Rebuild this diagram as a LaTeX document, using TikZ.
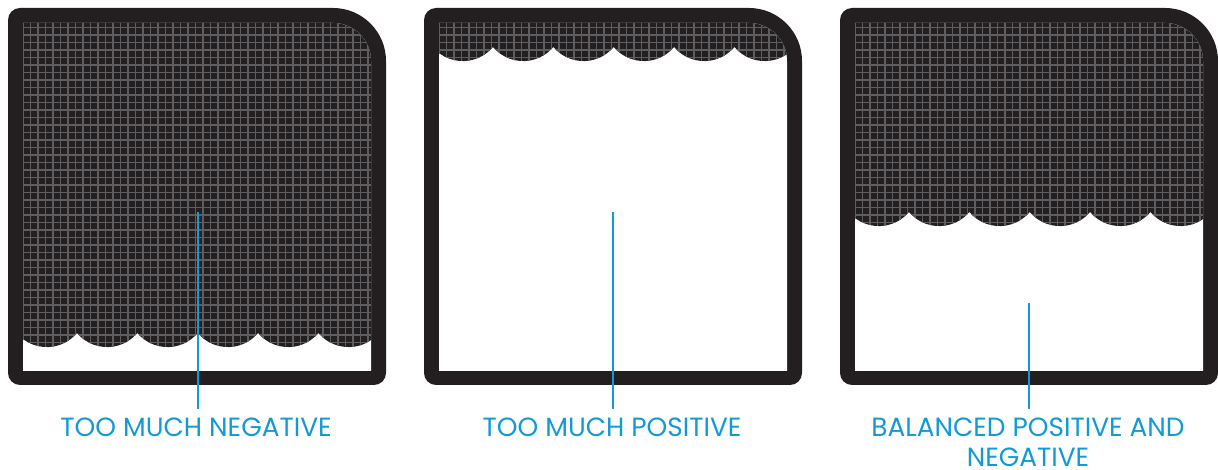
\documentclass[tikz,border=0pt]{standalone}
\usepackage{fontspec}
\setmainfont{Poppins}
\usetikzlibrary{positioning}
\definecolor{ink}{HTML}{231F20}
\definecolor{mesh}{HTML}{5E5E60}
\definecolor{sky}{HTML}{119AD6}
\tikzset{
  boxrim/.style={insert path={(12,85) -- (366,85) arc[start angle=-90,end angle=0,radius=12]
    -- (378,409) arc[start angle=0,end angle=90,radius=53]
    -- (12,462) arc[start angle=90,end angle=180,radius=12]
    -- (0,97) arc[start angle=180,end angle=270,radius=12] -- cycle}},
  boxhole/.style={insert path={(15,99) -- (363,99) -- (363,409)
    arc[start angle=0,end angle=90,radius=38] -- (15,447) -- cycle}},
  wave/.style={insert path={arc[start angle=220,end angle=320,radius=39.4]
    arc[start angle=220,end angle=320,radius=39.4] arc[start angle=220,end angle=320,radius=39.4]
    arc[start angle=220,end angle=320,radius=39.4] arc[start angle=220,end angle=320,radius=39.4]
    arc[start angle=220,end angle=320,radius=39.4]}},
  meshline/.style={draw=mesh,line width=0.85pt},
  leader/.style={draw=sky,line width=1.1pt},
  lbl/.style={text=sky,font=\fontsize{15}{17}\selectfont,align=center,inner sep=0pt,outer ysep=0.18cm,anchor=north}
}
\begin{document}
\begin{tikzpicture}[x=0.02cm,y=0.02cm]
  \useasboundingbox (0,0) rectangle (1218,470);
  % too much negative
  \begin{scope}[shift={(8,0)}]
    \fill[ink] [boxrim];
    \fill[white] [boxhole];
    \begin{scope}
      \clip [boxhole];
      \clip (8.6,137) [wave] -- (380,137) -- (380,470) -- (0,470) -- (0,137) -- cycle;
      \fill[ink] (0,75) rectangle (380,470);
      \draw[meshline,step=7.5] (0,75) grid (380,470);
    \end{scope}
  \end{scope}
  % too much positive
  \begin{scope}[shift={(424,0)}]
    \fill[ink] [boxrim];
    \fill[white] [boxhole];
    \begin{scope}
      \clip [boxhole];
      \clip (8.6,423) [wave] -- (380,423) -- (380,470) -- (0,470) -- (0,423) -- cycle;
      \fill[ink] (0,375) rectangle (380,470);
      \draw[meshline,step=7.5] (0,375) grid (380,470);
    \end{scope}
  \end{scope}
  % balanced
  \begin{scope}[shift={(840,0)}]
    \fill[ink] [boxrim];
    \fill[white] [boxhole];
    \begin{scope}
      \clip [boxhole];
      \clip (8.6,258) [wave] -- (380,258) -- (380,470) -- (0,470) -- (0,258) -- cycle;
      \fill[ink] (0,195) rectangle (380,470);
      \draw[meshline,step=7.5] (0,195) grid (380,470);
    \end{scope}
  \end{scope}

  \node[lbl] (neg) at (196,61) {TOO MUCH NEGATIVE};
  \node[lbl] (pos) at (612,61) {TOO MUCH POSITIVE};
  \node[lbl] (bal) at (1028,61) {BALANCED POSITIVE AND\\NEGATIVE};
  \coordinate (negtip) at (198,258);
  \coordinate (postip) at (613,258);
  \coordinate (baltip) at (1029,167);
  \draw[leader] (negtip) -- (negtip |- neg.north);
  \draw[leader] (postip) -- (postip |- pos.north);
  \draw[leader] (baltip) -- (baltip |- bal.north);
\end{tikzpicture}
\end{document}
